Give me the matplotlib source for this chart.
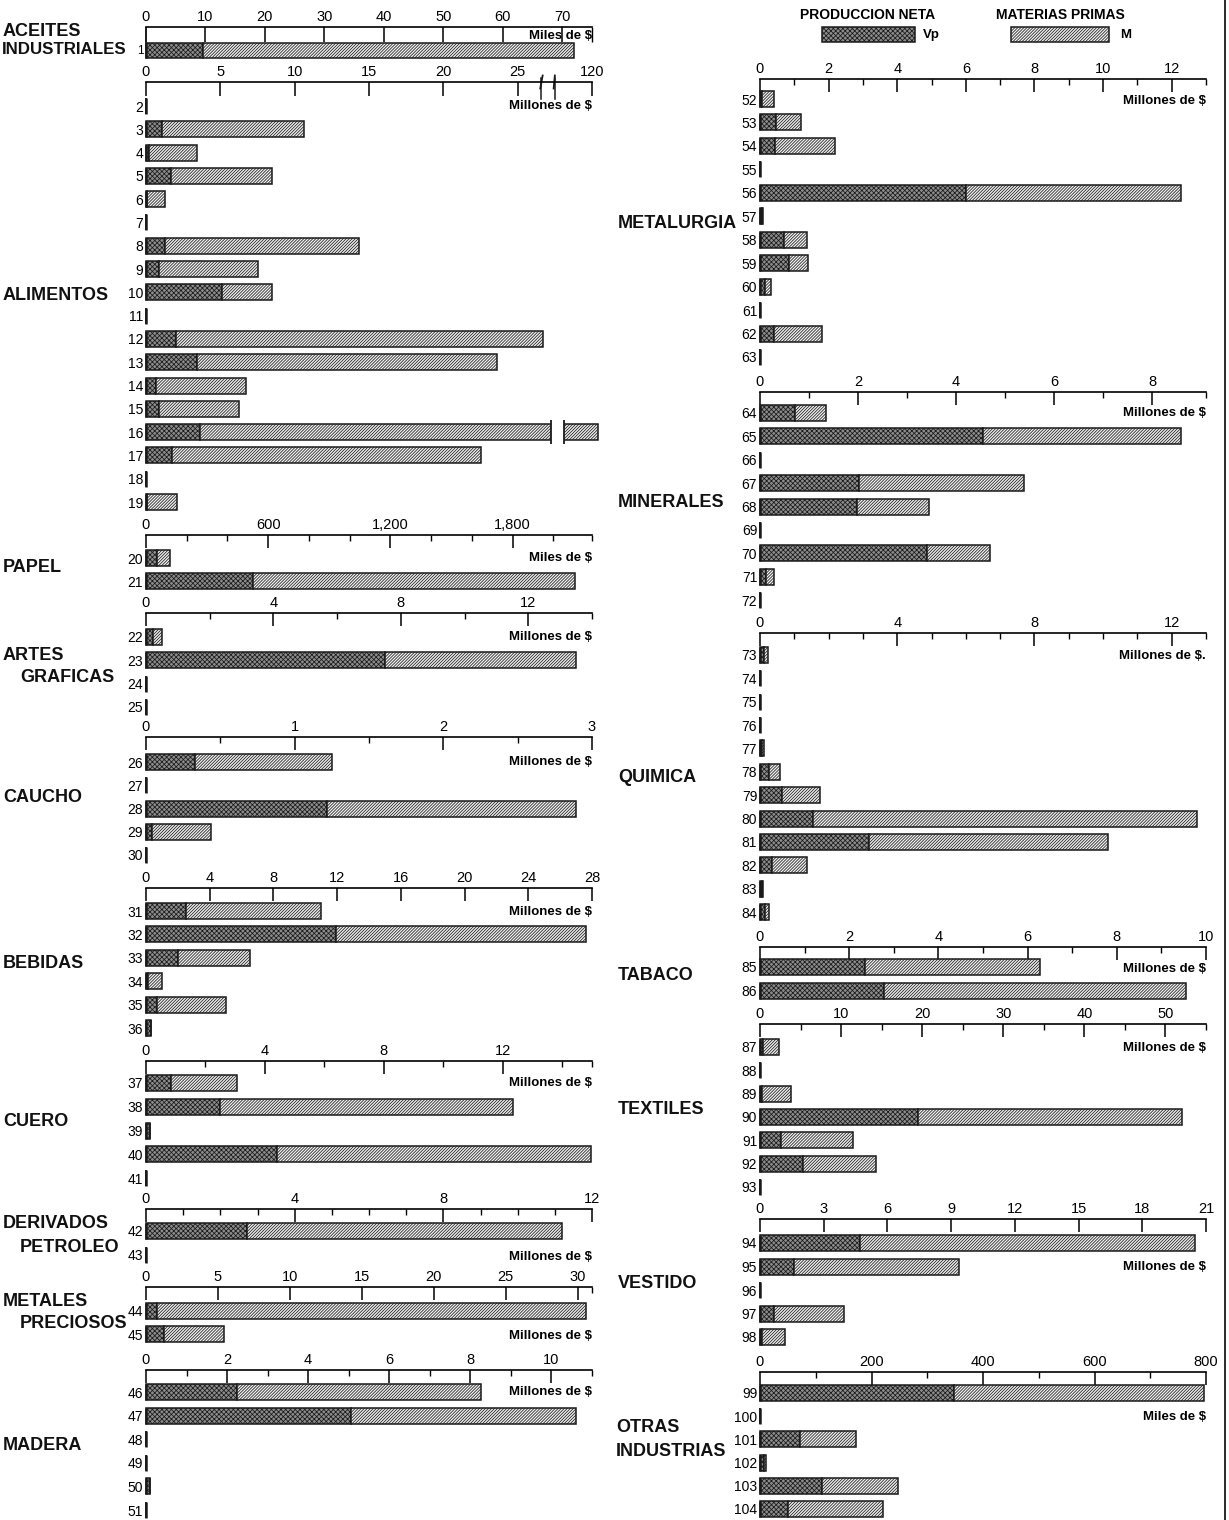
import numpy as np
import matplotlib
matplotlib.use("Agg")
import matplotlib.pyplot as plt
from matplotlib.patches import Rectangle
from matplotlib.lines import Line2D
from matplotlib.transforms import blended_transform_factory

W, H = 1229, 1520

# ---- data: Vp (produccion neta) and total (Vp + M) per rama ----
aceites_rows = ["1"]
aceites_vp = [9.6]
aceites_tot = [72.0]

alimentos_rows = ["2", "3", "4", "5", "6", "7", "8", "9", "10", "11", "12", "13",
                  "14", "15", "16", "17", "18", "19"]
alimentos_vp = [0, 1.1, 0.2, 1.7, 0.1, 0, 1.3, 0.9, 5.1, 0, 2.0, 3.4, 0.7, 0.85, 3.6, 1.75, 0, 0.1]
alimentos_tot = [0, 10.6, 3.4, 8.5, 1.3, 0, 14.3, 7.5, 8.5, 0, 26.7, 23.6, 6.7, 6.25, 134, 22.5, 0, 2.1]

papel_rows = ["20", "21"]
papel_vp = [54, 524]
papel_tot = [117, 2105]

artes_rows = ["22", "23", "24", "25"]
artes_vp = [0.22, 7.5, 0, 0]
artes_tot = [0.5, 13.5, 0, 0]

caucho_rows = ["26", "27", "28", "29", "30"]
caucho_vp = [0.33, 0, 1.22, 0.04, 0]
caucho_tot = [1.25, 0, 2.89, 0.44, 0]

bebidas_rows = ["31", "32", "33", "34", "35", "36"]
bebidas_vp = [2.5, 11.9, 2.0, 0.15, 0.7, 0.3]
bebidas_tot = [11.0, 27.65, 6.5, 1.0, 5.0, 0.3]

cuero_rows = ["37", "38", "39", "40", "41"]
cuero_vp = [0.84, 2.5, 0.13, 4.4, 0]
cuero_tot = [3.05, 12.35, 0.13, 14.95, 0]

derivados_rows = ["42", "43"]
derivados_vp = [2.72, 0]
derivados_tot = [11.2, 0]

metales_rows = ["44", "45"]
metales_vp = [0.77, 1.24]
metales_tot = [30.55, 5.42]

madera_rows = ["46", "47", "48", "49", "50", "51"]
madera_vp = [2.24, 5.05, 0, 0, 0.1, 0]
madera_tot = [8.26, 10.6, 0, 0, 0.1, 0]

metalurgia_rows = ["52", "53", "54", "55", "56", "57", "58", "59", "60", "61", "62", "63"]
metalurgia_vp = [0.05, 0.48, 0.43, 0, 6.0, 0.06, 0.71, 0.84, 0.15, 0, 0.41, 0]
metalurgia_tot = [0.41, 1.2, 2.18, 0, 12.26, 0.1, 1.37, 1.39, 0.33, 0, 1.81, 0]

minerales_rows = ["64", "65", "66", "67", "68", "69", "70", "71", "72"]
minerales_vp = [0.71, 4.55, 0, 2.02, 1.98, 0, 3.4, 0.12, 0]
minerales_tot = [1.35, 8.59, 0, 5.38, 3.44, 0, 4.69, 0.29, 0]

quimica_rows = ["73", "74", "75", "76", "77", "78", "79", "80", "81", "82", "83", "84"]
quimica_vp = [0.12, 0, 0, 0, 0.06, 0.26, 0.64, 1.55, 3.18, 0.35, 0.05, 0.15]
quimica_tot = [0.24, 0, 0, 0, 0.12, 0.58, 1.76, 12.75, 10.14, 1.38, 0.1, 0.26]

tabaco_rows = ["85", "86"]
tabaco_vp = [2.36, 2.79]
tabaco_tot = [6.27, 9.55]

textiles_rows = ["87", "88", "89", "90", "91", "92", "93"]
textiles_vp = [0.35, 0, 0.3, 19.5, 2.6, 5.3, 0]
textiles_tot = [2.3, 0, 3.8, 52.0, 11.5, 14.3, 0]

vestido_rows = ["94", "95", "96", "97", "98"]
vestido_vp = [4.73, 1.61, 0, 0.66, 0.08]
vestido_tot = [20.47, 9.36, 0, 3.95, 1.17]

otras_rows = ["99", "100", "101", "102", "103", "104"]
otras_vp = [348, 0, 72, 8, 112, 50]
otras_tot = [796, 0, 173, 11, 247, 220]

# ---- style ----
plt.rcParams["font.family"] = ["Liberation Sans", "DejaVu Sans"]
plt.rcParams["hatch.linewidth"] = 0.55
EDGE = "#1a1a1a"
VP_FACE, VP_HATCH = "#8c8c8c", "xxxxxxx"
M_FACE, M_HATCH = "#f0f0f0", "/" * 11
COLS = {"L": (146, 592), "R": (760, 1206)}
TICK_FS, ROW_FS, UNIT_FS, CAT_FS = 10.5, 10, 9.5, 13

# broken axis for alimentos (0-27.5 linear, then squeezed up to 120)
BRK = 27.5
SQ = 2.5 / 92.5


def brk_fwd(v):
    v = np.asarray(v, dtype=float)
    return np.where(v <= BRK, v, BRK + (v - BRK) * SQ)


def brk_inv(u):
    u = np.asarray(u, dtype=float)
    return np.where(u <= BRK, u, BRK + (u - BRK) / SQ)


fig = plt.figure(figsize=(W / 100, H / 100), dpi=100)


def px_axes(x0, x1, top, bottom):
    return fig.add_axes([x0 / W, 1 - bottom / H, (x1 - x0) / W, (bottom - top) / H])


def draw_panel(rows, vp, tot, col, axis_y, first, last, xmax, major, major_lbl,
               minor, unit, unit_row, scale=None, tick_len=(9, 4.5), bar_px=16):
    n = len(rows)
    step = (last - first) / (n - 1) if n > 1 else 23.0
    x0, x1 = COLS[col]
    ax = px_axes(x0, x1, axis_y, last + 12)
    if scale is not None:
        ax.set_xscale("function", functions=scale)
    ax.set_xlim(0, xmax)
    ax.set_ylim((n - 1) + 12 / step, -(first - axis_y) / step)

    y = np.arange(n)
    vp = np.array(vp, dtype=float)
    m = np.array(tot, dtype=float) - vp
    h = bar_px / step
    ax.barh(y, vp, height=h, color=VP_FACE, edgecolor=EDGE, hatch=VP_HATCH,
            lw=1.1, clip_on=False, zorder=3)
    ax.barh(y, m, left=vp, height=h, color=M_FACE, edgecolor=EDGE, hatch=M_HATCH,
            lw=1.1, clip_on=False, zorder=3)
    ax.vlines(np.zeros(n), y - h / 2, y + h / 2, color=EDGE, lw=1.8, zorder=4, clip_on=False)

    for s in ("left", "right", "bottom"):
        ax.spines[s].set_visible(False)
    ax.spines["top"].set_linewidth(1.2)
    ax.xaxis.set_ticks_position("top")
    ax.set_xticks(major)
    ax.set_xticklabels(major_lbl)
    ax.set_xticks(minor, minor=True)
    ax.tick_params(axis="x", which="major", direction="in", length=tick_len[0], width=1.1,
                   pad=2, labelsize=TICK_FS, top=True, bottom=False, labeltop=True,
                   labelbottom=False)
    ax.tick_params(axis="x", which="minor", direction="in", length=tick_len[1], width=1.0,
                   top=True, bottom=False)
    ax.set_yticks(y)
    ax.set_yticklabels(rows)
    ax.tick_params(axis="y", length=0, pad=2, labelsize=ROW_FS)
    ax.patch.set_alpha(0)

    tr = blended_transform_factory(ax.transAxes, ax.transData)
    ax.text(1.0, unit_row, unit, transform=tr, ha="right", va="center",
            fontsize=UNIT_FS, fontweight="bold")
    return ax, step


MIL = "Millones de $"
MILES = "Miles de $"


def rng(a, b, s):
    return list(np.arange(a, b + 1e-9, s))


# ---- left column ----
ax_ac, _ = draw_panel(aceites_rows, aceites_vp, aceites_tot, "L", 27, 50, 50, 75,
                      rng(0, 70, 10), [str(v) for v in range(0, 80, 10)], [75], MILES, -0.62,
                      tick_len=(11, 11), bar_px=15)
ax_ac.vlines([0], [-1.0], [0], color=EDGE, lw=1.2, clip_on=False)
for t in ax_ac.get_yticklabels():
    t.set_fontsize(8.5)
    t.set_y(-0.25)

ax_al, st = draw_panel(alimentos_rows, alimentos_vp, alimentos_tot, "L", 82, 106, 502, 120,
                       [0, 5, 10, 15, 20, 25, 120], ["0", "5", "10", "15", "20", "25", "120"],
                       [], MIL, 0.0, scale=(brk_fwd, brk_inv), tick_len=(10, 5))
# break marks on axis
xtr = ax_al.get_xaxis_transform()
for bx in (26.6, 27.5):
    ax_al.plot([bx - 0.08, bx + 0.08], [0.985, 1.015], transform=xtr, color=EDGE,
               lw=1.3, clip_on=False)
    ax_al.plot([bx, bx], [0.96, 1.01], transform=xtr, color=EDGE, lw=1.1, clip_on=False)
# gap in bar 16
i16 = alimentos_rows.index("16")
h16 = 16 / st
g0, g1 = 27.25, float(brk_inv(28.1))
ax_al.add_patch(Rectangle((g0, i16 - h16), g1 - g0, 2 * h16, facecolor="white",
                          edgecolor="none", zorder=5))
ax_al.vlines([g0, g1], i16 - h16 * 0.75, i16 + h16 * 0.75, color=EDGE, lw=1.3, zorder=6)

draw_panel(papel_rows, papel_vp, papel_tot, "L", 535, 558, 581, 2190,
           [0, 600, 1200, 1800], ["0", "600", "1,200", "1,800"],
           [200, 400, 800, 1000, 1400, 1600, 2000, 2190], MILES, 0.0)
draw_panel(artes_rows, artes_vp, artes_tot, "L", 613, 637, 707, 14,
           [0, 4, 8, 12], ["0", "4", "8", "12"], [2, 6, 10, 14], MIL, 0.0)
draw_panel(caucho_rows, caucho_vp, caucho_tot, "L", 737, 762, 855, 3,
           [0, 1, 2, 3], ["0", "1", "2", "3"], [0.5, 1.5, 2.5], MIL, 0.0)
draw_panel(bebidas_rows, bebidas_vp, bebidas_tot, "L", 888, 911, 1028, 28,
           rng(0, 28, 4), [str(v) for v in range(0, 32, 4)], [], MIL, 0.05)
draw_panel(cuero_rows, cuero_vp, cuero_tot, "L", 1061, 1083, 1178, 15,
           [0, 4, 8, 12], ["0", "4", "8", "12"], [2, 6, 10, 14, 15], MIL, 0.0)
draw_panel(derivados_rows, derivados_vp, derivados_tot, "L", 1209, 1231, 1255, 12,
           [0, 4, 8, 12], ["0", "4", "8", "12"], [1, 2, 3, 5, 6, 7, 9, 10, 11], MIL, 1.1)
draw_panel(metales_rows, metales_vp, metales_tot, "L", 1287, 1311, 1334, 31,
           rng(0, 30, 5), [str(v) for v in range(0, 35, 5)], [31], MIL, 1.1)
draw_panel(madera_rows, madera_vp, madera_tot, "L", 1370, 1392, 1510, 11,
           rng(0, 10, 2), [str(v) for v in range(0, 12, 2)], [1, 3, 5, 7, 9, 11], MIL, 0.0)

# ---- right column ----
draw_panel(metalurgia_rows, metalurgia_vp, metalurgia_tot, "R", 79, 99, 357, 13,
           rng(0, 12, 2), [str(v) for v in range(0, 14, 2)], [1, 3, 5, 7, 9, 11, 13], MIL, 0.1)
draw_panel(minerales_rows, minerales_vp, minerales_tot, "R", 392, 413, 600, 9.1,
           [0, 2, 4, 6, 8], ["0", "2", "4", "6", "8"], [1, 3, 5, 7, 9.1], MIL, 0.0)
draw_panel(quimica_rows, quimica_vp, quimica_tot, "R", 633, 655, 912, 13,
           [0, 4, 8, 12], ["0", "4", "8", "12"], [1, 2, 3, 5, 6, 7, 9, 10, 11, 13],
           MIL + ".", 0.05)
draw_panel(tabaco_rows, tabaco_vp, tabaco_tot, "R", 947, 967, 991, 10,
           rng(0, 10, 2), [str(v) for v in range(0, 12, 2)], [1, 3, 5, 7, 9], MIL, 0.1)
draw_panel(textiles_rows, textiles_vp, textiles_tot, "R", 1024, 1047, 1187, 55,
           rng(0, 50, 10), [str(v) for v in range(0, 60, 10)], [5, 15, 25, 35, 45, 55],
           MIL, 0.05)
draw_panel(vestido_rows, vestido_vp, vestido_tot, "R", 1219, 1243, 1337, 21,
           rng(0, 21, 3), [str(v) for v in range(0, 24, 3)], [], MIL, 1.0)
draw_panel(otras_rows, otras_vp, otras_tot, "R", 1372, 1393, 1509, 800,
           [0, 200, 400, 600, 800], ["0", "200", "400", "600", "800"],
           [100, 300, 500, 700], MILES, 1.05)


# ---- group labels ----
def label(x, y, s, fs=CAT_FS):
    fig.text(x / W, 1 - y / H, s, ha="left", va="center", fontsize=fs,
             fontweight="bold", color="#111")


for x, y, s in [
    (3, 31, "ACEITES"), (3, 296, "ALIMENTOS"),
    (3, 567, "PAPEL"), (3, 655, "ARTES"), (20, 678, "GRAFICAS"),
    (3, 798, "CAUCHO"), (3, 964, "BEBIDAS"), (3, 1122, "CUERO"),
    (3, 1224, "DERIVADOS"), (20, 1247, "PETROLEO"), (3, 1301, "METALES"),
    (20, 1324, "PRECIOSOS"), (3, 1445, "MADERA"),
    (618, 224, "METALURGIA"), (618, 503, "MINERALES"), (618, 777, "QUIMICA"),
    (618, 975, "TABACO"), (618, 1110, "TEXTILES"), (618, 1284, "VESTIDO"),
    (616, 1428, "OTRAS"), (616, 1452, "INDUSTRIAS"),
]:
    label(x, y, s)
label(2, 50, "INDUSTRIALES", fs=12.2)

# ---- legend ----
def fig_rect(x, y, w, h, face, hatch):
    fig.add_artist(Rectangle((x / W, 1 - (y + h) / H), w / W, h / H, transform=fig.transFigure,
                             facecolor=face, edgecolor=EDGE, hatch=hatch, lw=1.1))


fig.text(868 / W, 1 - 15 / H, "PRODUCCION NETA", ha="center", va="center",
         fontsize=10, fontweight="bold")
fig_rect(822, 27, 93, 15, VP_FACE, VP_HATCH)
fig.text(923 / W, 1 - 35 / H, "Vp", ha="left", va="center", fontsize=9.5, fontweight="bold")
fig.text(1060 / W, 1 - 15 / H, "MATERIAS PRIMAS", ha="center", va="center",
         fontsize=10, fontweight="bold")
fig_rect(1011, 27, 98, 15, M_FACE, M_HATCH)
fig.text(1120 / W, 1 - 35 / H, "M", ha="left", va="center", fontsize=9.5, fontweight="bold")

# page border on the right
fig.add_artist(Line2D([1225 / W, 1225 / W], [0, 1], transform=fig.transFigure,
                      color=EDGE, lw=1.3))

fig.savefig("out.png", dpi=100)
